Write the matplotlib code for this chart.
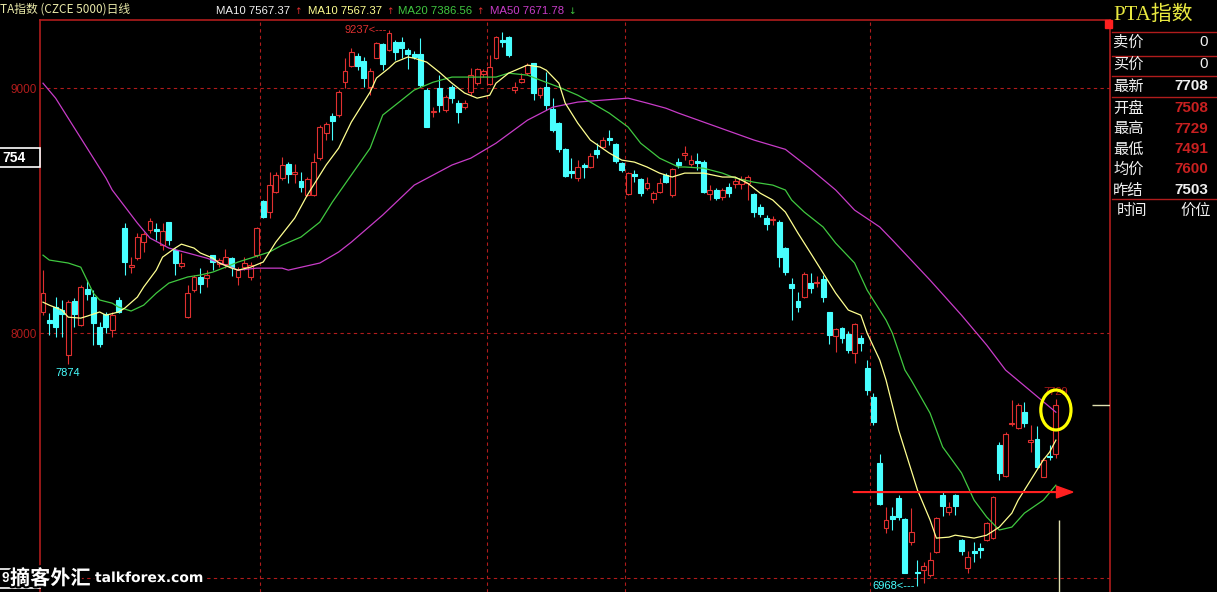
import matplotlib
matplotlib.use("Agg")
import matplotlib.pyplot as plt
import matplotlib.patheffects as pe
from matplotlib.patches import Rectangle, Ellipse, FancyArrow

W, H = 1217, 592

# daily candles (oldest first)
opens = [8086, 8053, 8106, 8094, 7910, 8131, 8033, 8180, 8147, 8024,
         8078, 8012, 8135, 8429, 8269, 8306, 8371, 8420, 8424, 8359,
         8453, 8339, 8273, 8065, 8175, 8229, 8225, 8318, 8282, 8282,
         8306, 8229, 8269, 8229, 8318, 8539, 8494, 8576, 8633, 8690,
         8649, 8620, 8563, 8563, 8714, 8816, 8886, 8890, 9024, 9090,
         9131, 9110, 9004, 9122, 9180, 9155, 9188, 9188, 9155, 9139,
         9139, 8992, 8902, 9000, 8910, 9004, 8939, 8922, 8984, 9020,
         9057, 9016, 9122, 9196, 9208, 8992, 9024, 9061, 9102, 8971,
         9004, 8914, 8857, 8751, 8661, 8633, 8686, 8678, 8747, 8759,
         8796, 8771, 8694, 8567, 8649, 8628, 8592, 8547, 8576, 8645,
         8563, 8698, 8727, 8690, 8702, 8698, 8567, 8584, 8555, 8596,
         8608, 8608, 8612, 8567, 8514, 8469, 8461, 8453, 8347, 8200,
         8131, 8147, 8204, 8204, 8220, 8086, 7988, 8020, 7996, 7918,
         7980, 7857, 7739, 7469, 7204, 7253, 7327, 7241, 7147, 7024,
         7032, 7012, 7106, 7339, 7269, 7339, 7155, 7041, 7110, 7122,
         7155, 7163, 7543, 7416, 7629, 7612, 7678, 7555, 7567, 7412,
         7498, 7508]
highs = [8257, 8082, 8147, 8135, 8135, 8143, 8196, 8216, 8176, 8045,
         8086, 8086, 8147, 8449, 8310, 8408, 8412, 8469, 8449, 8449,
         8453, 8347, 8326, 8196, 8237, 8265, 8257, 8318, 8306, 8343,
         8310, 8269, 8310, 8290, 8433, 8543, 8657, 8657, 8718, 8698,
         8690, 8657, 8637, 8735, 8849, 8861, 8898, 8992, 9122, 9163,
         9143, 9127, 9082, 9188, 9184, 9237, 9196, 9208, 9163, 9151,
         9204, 9000, 8922, 9053, 8971, 9012, 8951, 8951, 9082, 9082,
         9078, 9135, 9212, 9229, 9212, 9024, 9061, 9102, 9102, 9004,
         9065, 8959, 8861, 8755, 8714, 8706, 8694, 8735, 8775, 8800,
         8828, 8775, 8698, 8657, 8665, 8633, 8637, 8580, 8633, 8653,
         8673, 8714, 8763, 8727, 8735, 8706, 8604, 8592, 8592, 8612,
         8637, 8641, 8645, 8571, 8527, 8482, 8478, 8461, 8351, 8224,
         8167, 8249, 8245, 8233, 8237, 8086, 8020, 8024, 8008, 8041,
         7992, 7890, 7755, 7506, 7290, 7290, 7339, 7245, 7286, 7073,
         7065, 7106, 7249, 7351, 7310, 7343, 7159, 7110, 7147, 7143,
         7229, 7335, 7555, 7596, 7726, 7714, 7718, 7624, 7620, 7490,
         7543, 7729]
lows = [8073, 7992, 7984, 7984, 7874, 8024, 8029, 8135, 7951, 7943,
        8000, 7984, 8082, 8237, 8245, 8298, 8331, 8408, 8380, 8339,
        8359, 8237, 8265, 8061, 8167, 8163, 8188, 8257, 8269, 8265,
        8233, 8196, 8257, 8216, 8310, 8469, 8469, 8571, 8624, 8612,
        8612, 8576, 8559, 8559, 8706, 8788, 8788, 8882, 9000, 9086,
        9073, 9004, 8971, 9122, 9073, 9151, 9114, 9122, 9078, 9118,
        9004, 8841, 8882, 8902, 8902, 8939, 8857, 8914, 8971, 9012,
        9045, 9012, 9118, 9167, 9127, 8980, 9020, 9053, 8951, 8959,
        8910, 8820, 8739, 8637, 8633, 8620, 8633, 8673, 8714, 8755,
        8767, 8694, 8657, 8563, 8616, 8559, 8584, 8531, 8571, 8612,
        8555, 8673, 8706, 8682, 8665, 8571, 8543, 8543, 8543, 8555,
        8592, 8588, 8543, 8473, 8473, 8420, 8441, 8269, 8237, 8053,
        8086, 8143, 8163, 8188, 8127, 7955, 7922, 7959, 7918, 7877,
        7926, 7747, 7624, 7298, 7184, 7196, 7237, 7020, 7135, 6968,
        6980, 7004, 7102, 7253, 7257, 7257, 7094, 7020, 7065, 7082,
        7151, 7159, 7400, 7412, 7620, 7608, 7616, 7514, 7449, 7412,
        7482, 7491]
closes = [8163, 8041, 8024, 8078, 8127, 8078, 8188, 8159, 8041, 7955,
          8024, 8073, 8086, 8290, 8278, 8392, 8404, 8457, 8416, 8416,
          8380, 8286, 8286, 8163, 8229, 8200, 8237, 8290, 8298, 8310,
          8269, 8257, 8286, 8278, 8429, 8473, 8604, 8645, 8686, 8649,
          8657, 8596, 8628, 8698, 8841, 8853, 8865, 8984, 9069, 9147,
          9090, 9041, 9069, 9184, 9098, 9225, 9147, 9163, 9139, 9127,
          9012, 8841, 8906, 8931, 8963, 8959, 8902, 8939, 9053, 9078,
          9069, 9086, 9208, 9188, 9135, 9004, 9037, 9094, 8980, 9000,
          8931, 8829, 8751, 8641, 8653, 8678, 8678, 8722, 8731, 8788,
          8788, 8702, 8665, 8653, 8641, 8571, 8612, 8571, 8612, 8616,
          8669, 8686, 8735, 8706, 8694, 8575, 8584, 8551, 8584, 8571,
          8620, 8628, 8637, 8494, 8486, 8445, 8465, 8310, 8249, 8184,
          8106, 8241, 8184, 8208, 8147, 7992, 8016, 7980, 7930, 8037,
          7959, 7767, 7637, 7302, 7237, 7241, 7249, 7020, 7188, 7020,
          7049, 7073, 7245, 7294, 7290, 7294, 7110, 7086, 7102, 7114,
          7225, 7331, 7429, 7588, 7633, 7706, 7633, 7563, 7453, 7482,
          7494, 7708]

# moving averages, sampled at candle positions
ma10_at = [0, 1, 3, 4, 6, 7, 9, 10, 12, 13, 15, 16, 18, 19, 21, 22, 24, 25,
           27, 28, 30, 31, 33, 35, 37, 40, 42, 45, 47, 49, 52, 53, 55, 56, 58,
           59, 61, 63, 65, 67, 69, 71, 72, 74, 77, 79, 80, 82, 83, 85, 87, 90,
           92, 94, 96, 98, 100, 102, 105, 108, 110, 112, 114, 116, 118, 120,
           122, 124, 126, 128, 130, 131, 133, 134, 136, 139, 141, 142, 144,
           145, 147, 148, 150, 152, 154, 155, 157, 159, 160, 161]
ma10 = [8126, 8114, 8094, 8065, 8061, 8069, 8086, 8073, 8086, 8102, 8147,
        8188, 8257, 8310, 8347, 8363, 8347, 8327, 8306, 8286, 8265, 8257,
        8269, 8290, 8371, 8469, 8563, 8686, 8755, 8861, 8984, 9041, 9082,
        9106, 9127, 9122, 9106, 9065, 9020, 8980, 8959, 8971, 9020, 9061,
        9094, 9086, 9073, 9020, 8939, 8857, 8788, 8735, 8706, 8698, 8678,
        8653, 8637, 8653, 8653, 8637, 8637, 8612, 8571, 8543, 8494, 8408,
        8327, 8245, 8163, 8094, 8073, 8000, 7890, 7808, 7604, 7359, 7237,
        7163, 7167, 7175, 7167, 7163, 7175, 7208, 7265, 7318, 7400, 7482,
        7514, 7563]
ma20_at = [0, 1, 4, 6, 7, 8, 9, 11, 12, 14, 16, 18, 20, 23, 25, 27, 29, 31,
           33, 36, 38, 41, 44, 46, 49, 52, 54, 57, 59, 62, 65, 68, 72, 74, 77,
           79, 82, 85, 87, 90, 93, 95, 98, 101, 102, 105, 108, 110, 113, 116,
           118, 119, 121, 124, 126, 129, 131, 134, 135, 137, 138, 141, 143,
           146, 148, 150, 152, 154, 156, 159, 161]
ma20 = [8318, 8298, 8286, 8269, 8216, 8163, 8135, 8122, 8106, 8090, 8114,
        8163, 8204, 8229, 8237, 8249, 8269, 8290, 8306, 8331, 8359, 8392,
        8453, 8535, 8645, 8755, 8890, 8951, 8992, 9024, 9045, 9045, 9045,
        9061, 9053, 9033, 9004, 8971, 8943, 8898, 8841, 8775, 8714, 8678,
        8678, 8673, 8653, 8633, 8616, 8604, 8584, 8543, 8494, 8433, 8367,
        8286, 8175, 8053, 8000, 7849, 7808, 7673, 7535, 7429, 7318, 7249,
        7196, 7208, 7265, 7318, 7379]
ma50_at = [0, 2, 10, 11, 15, 17, 20, 23, 26, 29, 31, 34, 38, 39, 44, 47, 49,
           54, 59, 65, 68, 72, 77, 81, 85, 89, 93, 96, 99, 101, 113, 118, 122,
           126, 129, 133, 135, 141, 146, 150, 153, 161]
ma50 = [9020, 8959, 8633, 8584, 8449, 8388, 8347, 8327, 8306, 8278, 8257,
        8265, 8265, 8257, 8286, 8331, 8371, 8482, 8604, 8686, 8714, 8775,
        8869, 8922, 8943, 8951, 8959, 8939, 8918, 8898, 8788, 8750, 8670,
        8584, 8502, 8433, 8380, 8216, 8073, 7951, 7849, 7677]

month_breaks = [34.5, 70.5, 92.5, 131.5]
grid_prices = [7000, 8000, 9000]
arrow_price = 7351

header_title = "TA指数 (CZCE 5000)日线"
header_ma = ["MA10 7567.37", "MA10 7567.37", "MA20 7386.56", "MA50 7671.78"]
header_dir = ["↑", "↑", "↑", "↓"]
panel_labels = ["卖价", "买价", "最新", "开盘", "最高", "最低", "均价", "昨结"]
panel_values = ["0", "0", "7708", "7508", "7729", "7491", "7600", "7503"]

RED = "#e03030"
DARKRED = "#b01c1c"
CYAN = "#48ffff"
YELLOW = "#ffff90"
GREEN = "#40c840"
MAGENTA = "#c83cc8"
SANS = ["Liberation Sans", "DejaVu Sans"]
CJK = ["Noto Sans CJK SC", "DejaVu Sans"]

fig = plt.figure(figsize=(W / 100, H / 100), dpi=100, facecolor="black")
ax = fig.add_axes([40 / W, 0, 1070 / W, 572 / H], facecolor="black")

# candles
for i in range(len(closes)):
    o, h, l, c = opens[i], highs[i], lows[i], closes[i]
    up = c >= o
    col = RED if up else CYAN
    ax.vlines(i, l, h, color=col, lw=0.8, zorder=3)
    ax.bar(i, max(abs(c - o), 5), 0.78, bottom=min(o, c),
           facecolor="black" if up else col, edgecolor=col, lw=0.8, zorder=4)

ax.plot(ma50_at, ma50, color=MAGENTA, lw=0.9, zorder=5)
ax.plot(ma20_at, ma20, color=GREEN, lw=0.9, zorder=5)
ax.plot(ma10_at, ma10, color=YELLOW, lw=0.9, zorder=5)

for p in grid_prices:
    ax.axhline(p, color=DARKRED, lw=0.8, ls=(0, (3, 3)), zorder=1)
for m in month_breaks:
    ax.axvline(m, color=DARKRED, lw=0.8, ls=(0, (3, 3)), zorder=1)

ax.set_xlim(-0.48, 169.6)
ax.set_ylim(6943, 9278)
ax.set_xticks([])
ax.set_yticks([8000, 9000])
ax.tick_params(axis="y", length=0, pad=2, labelcolor=DARKRED, labelsize=8.5)
for t in ax.get_yticklabels():
    t.set_family(SANS)
for s in ["left", "top", "right"]:
    ax.spines[s].set_color(DARKRED)
    ax.spines[s].set_linewidth(1.2)
ax.spines["bottom"].set_visible(False)

# high / low marks
last = len(closes) - 1
i_hi = highs.index(max(highs))
i_lo = lows.index(min(lows))
ax.text(i_hi - 0.4, highs[i_hi], f"{highs[i_hi]}<---", color=RED, ha="right",
        va="center", fontsize=8, family=SANS, zorder=6)
ax.text(i_lo - 0.4, lows[i_lo], f"{lows[i_lo]}<---", color=CYAN, ha="right",
        va="center", fontsize=8, family=SANS, zorder=6)
ax.text(4, lows[4] - 18, str(lows[4]), color=CYAN, ha="center", va="top",
        fontsize=8, family=SANS, zorder=6)
ax.text(last, highs[last] + 8, str(highs[last]), color=DARKRED, ha="center",
        va="bottom", fontsize=8, family=SANS, zorder=6)

# red arrow, yellow circle, markers
ax.add_patch(FancyArrow(128.8, arrow_price, 32.3, 0, width=3, head_width=48,
                        head_length=2.6, length_includes_head=False,
                        color="#ff2020", zorder=7))
ax.add_patch(Ellipse((last, 7686), 4.8, 163, fill=False, edgecolor="#ffff00",
                     lw=2.3, zorder=8))
ax.hlines(closes[last], 166.8, 169.6, color="#e0e0b0", lw=1.0, zorder=6)
ax.vlines(last + 0.5, 6943, 7237, color="#e0e0b0", lw=1.0, zorder=6)

# header line
fig.text(0, 1 - 9 / H, header_title, color="#e8e8a8", fontsize=8.5,
         family=CJK, va="center")
ma_cols = ["#f0f0f0", YELLOW, GREEN, MAGENTA]
ma_x = [216, 308, 398, 490]
for txt, d, col, mx in zip(header_ma, header_dir, ma_cols, ma_x):
    t = fig.text(mx / W, 1 - 11 / H, txt, color=col, fontsize=8.2,
                 family=SANS, va="center")
    ax.annotate(d, xy=(1, 0.5), xycoords=t, xytext=(3, 0),
                textcoords="offset points", va="center",
                color=RED if d == "↑" else GREEN, fontsize=6.5,
                family=["DejaVu Sans"])

# right panel
fig.text(1113 / W, 1 - 15 / H, "PTA指数", color="#e8e840", fontsize=15,
         family=["Liberation Serif", "Noto Sans CJK SC"], va="center")
fig.patches.append(Rectangle((1105 / W, 1 - 28 / H), 7 / W, 8 / H,
                             transform=fig.transFigure, color="#ff2020"))
for yy in [32, 56, 76, 97, 199]:
    fig.lines.append(plt.Line2D([1112 / W, 1], [1 - yy / H, 1 - yy / H],
                                transform=fig.transFigure, color=DARKRED,
                                lw=1.0))
row_y = [42, 64, 86, 108, 129, 149, 169, 190]
for k, (lab, val, yy) in enumerate(zip(panel_labels, panel_values, row_y)):
    fig.text(1113 / W, 1 - yy / H, lab, color="#f0f0f0", fontsize=11,
             family=CJK, va="center")
    red_val = 3 <= k <= 6
    fig.text(1208 / W, 1 - yy / H, val,
             color="#c82020" if red_val else "#f0f0f0", fontsize=11,
             fontweight="bold" if k >= 2 else "normal",
             family=SANS, ha="right", va="center")
fig.text(1117 / W, 1 - 210 / H, "时间", color="#f0f0f0", fontsize=11,
         family=CJK, va="center")
fig.text(1180 / W, 1 - 210 / H, "价位", color="#f0f0f0", fontsize=11,
         family=CJK, va="center")

# left price boxes
fig.patches.append(Rectangle((-2 / W, 1 - 167 / H), 42 / W, 19 / H,
                             transform=fig.transFigure, facecolor="black",
                             edgecolor="white", lw=1.2))
fig.text(2 / W, 1 - 158 / H, "754", color="white", fontsize=10,
         fontweight="bold", family=SANS, va="center")
fig.patches.append(Rectangle((-2 / W, 1 - 588 / H), 42 / W, 19 / H,
                             transform=fig.transFigure, facecolor="black",
                             edgecolor="white", lw=1.2))
fig.text(1 / W, 1 - 578 / H, "9", color="white", fontsize=10,
         fontweight="bold", family=SANS, va="center")

# watermark
stroke = [pe.withStroke(linewidth=3, foreground="black")]
fig.text(10 / W, 1 - 578 / H, "摘客外汇", color="white", fontsize=14.5,
         fontweight="bold", family=CJK, va="center", path_effects=stroke)
fig.text(95 / W, 1 - 578 / H, "talkforex.com", color="white", fontsize=10,
         fontweight="bold", family=["DejaVu Sans"], va="center",
         path_effects=stroke)

fig.savefig("out.png", dpi=100, facecolor="black")
